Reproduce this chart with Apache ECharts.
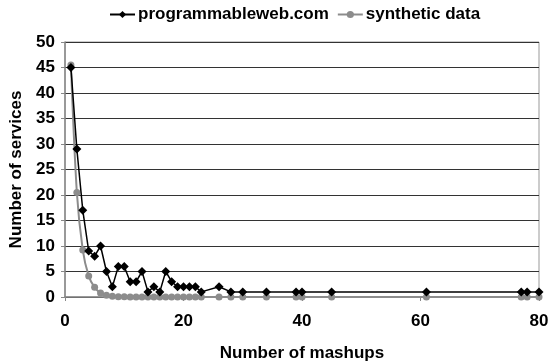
<!DOCTYPE html>
<html><head><meta charset="utf-8">
<script src="https://cdn.jsdelivr.net/npm/echarts@6/dist/echarts.min.js"></script>
<style>html,body{margin:0;padding:0;background:#fff}#c{width:548px;height:364px}</style>
</head><body><div id="c"></div>
<script>
const mashups = [1,2,3,4,5,6,7,8,9,10,11,12,13,14,15,16,17,18,19,20,21,22,23,26,28,30,34,39,40,45,61,77,78,80];
const programmableweb = [45,29,17,9,8,10,5,2,6,6,3,3,5,1,2,1,5,3,2,2,2,2,1,2,1,1,1,1,1,1,1,1,1,1];
const synthetic = [45.5,20.5,9.2,4.1,1.9,0.8,0.35,0.15,0.07,0.03,0.01,0,0,0,0,0,0,0,0,0,0,0,0,0,0,0,0,0,0,0,0,0,0,0];
const xTicks = [0,20,40,60,80];
const yTicks = [0,5,10,15,20,25,30,35,40,45,50];

const font = 'Liberation Sans, Arial, sans-serif';
const chart = echarts.init(document.getElementById('c'), null, {renderer:'canvas'});
chart.setOption({
  animation:false,
  legend:{
    top:1, left:104, itemGap:8, itemWidth:25, itemHeight:9,
    textStyle:{fontFamily:font, fontWeight:'bold', fontSize:17, color:'#000', padding:[0,0,0,-2]},
    data:['programmableweb.com','synthetic data']
  },
  grid:{left:65, right:9, top:42, bottom:67, outerBoundsMode:'none', containLabel:false,
        show:true, borderColor:'#999', borderWidth:1},
  xAxis:{
    type:'value', min:xTicks[0], max:xTicks[xTicks.length-1], interval:20,
    name:'Number of mashups', nameLocation:'middle', nameGap:48,
    nameTextStyle:{fontFamily:font, fontWeight:'bold', fontSize:17, color:'#000'},
    axisLine:{show:true, lineStyle:{color:'#888', width:1.5}},
    axisTick:{show:true, length:4, lineStyle:{color:'#888'}},
    axisLabel:{fontFamily:font, fontWeight:'bold', fontSize:17, color:'#000', margin:16},
    splitLine:{show:false}
  },
  yAxis:{
    type:'value', min:yTicks[0], max:yTicks[yTicks.length-1], interval:5,
    name:'Number of services', nameLocation:'middle', nameGap:40, nameRotate:90,
    nameTextStyle:{fontFamily:font, fontWeight:'bold', fontSize:17, color:'#000'},
    axisLine:{show:true, lineStyle:{color:'#888', width:1.5}},
    axisTick:{show:true, length:4, lineStyle:{color:'#888'}},
    axisLabel:{fontFamily:font, fontWeight:'bold', fontSize:17, color:'#000', margin:10},
    splitLine:{show:true, lineStyle:{color:'#333', width:1}}
  },
  series:[
    {
      name:'programmableweb.com', type:'line', z:3,
      data: mashups.map((x,i)=>[x, programmableweb[i]]),
      symbol:'diamond', symbolSize:9,
      itemStyle:{color:'#000'}, lineStyle:{color:'#000', width:1.5}
    },
    {
      name:'synthetic data', type:'line', z:2, smooth:0.3,
      data: mashups.map((x,i)=>[x, synthetic[i]]),
      symbol:'circle', symbolSize:7,
      itemStyle:{color:'#8c8c8c'}, lineStyle:{color:'#8c8c8c', width:2}
    }
  ]
});
</script></body></html>
